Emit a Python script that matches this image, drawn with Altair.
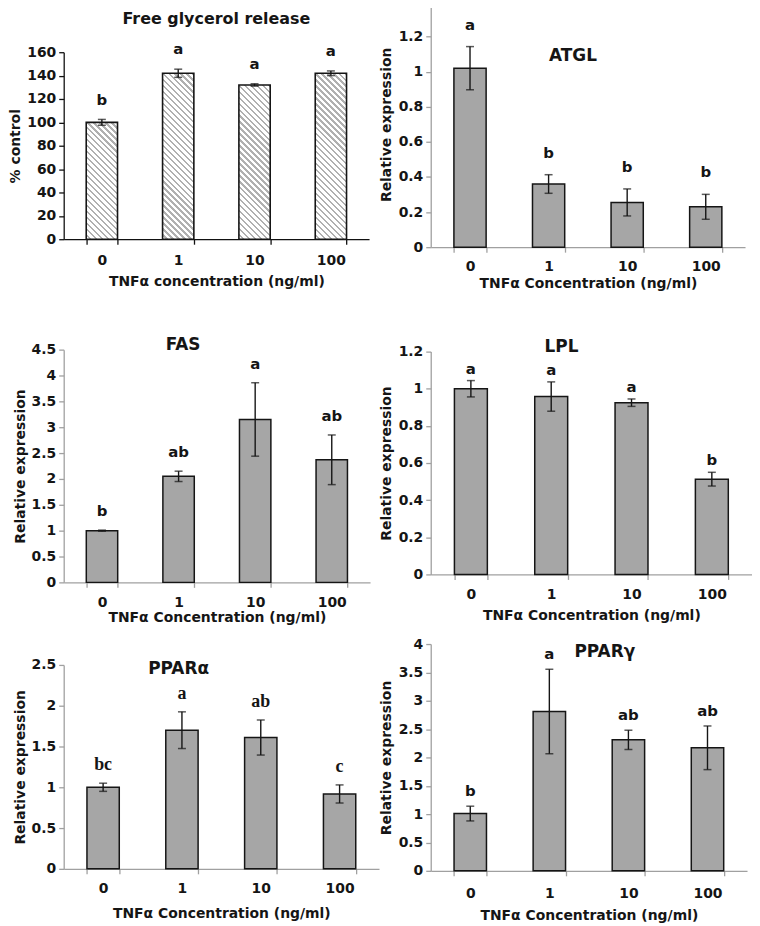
import altair as alt
import pandas as pd

# ---------------- data ----------------
concs = ["0", "1", "10", "100"]

glycerol_mean = [100, 142, 132, 142]
glycerol_err = [2.5, 3.5, 1.0, 2.0]
glycerol_letters = ["b", "a", "a", "a"]
glycerol_ticks = [0, 20, 40, 60, 80, 100, 120, 140, 160]

atgl_mean = [1.02, 0.36, 0.255, 0.23]
atgl_err = [0.123, 0.053, 0.077, 0.071]
atgl_letters = ["a", "b", "b", "b"]
atgl_ticks = [0, 0.2, 0.4, 0.6, 0.8, 1, 1.2, 1.4]

fas_mean = [1.0, 2.05, 3.15, 2.37]
fas_err = [0.01, 0.10, 0.71, 0.48]
fas_letters = ["b", "ab", "a", "ab"]
fas_ticks = [0, 0.5, 1, 1.5, 2, 2.5, 3, 3.5, 4, 4.5]

lpl_mean = [1.0, 0.958, 0.925, 0.513]
lpl_err = [0.044, 0.079, 0.02, 0.037]
lpl_letters = ["a", "a", "a", "b"]
lpl_ticks = [0, 0.2, 0.4, 0.6, 0.8, 1, 1.2]

ppara_mean = [1.0, 1.70, 1.61, 0.918]
ppara_err = [0.05, 0.225, 0.215, 0.111]
ppara_letters = ["bc", "a", "ab", "c"]
ppara_ticks = [0, 0.5, 1, 1.5, 2, 2.5]

pparg_mean = [1.01, 2.81, 2.31, 2.17]
pparg_err = [0.13, 0.745, 0.17, 0.385]
pparg_letters = ["b", "a", "ab", "ab"]
pparg_ticks = [0, 0.5, 1, 1.5, 2, 2.5, 3, 3.5, 4]

# ---------------- style ----------------
FONT = "DejaVu Sans"
SERIF = "Liberation Serif"
BAR_GRAY = "#a6a6a6"
AXIS_GRAY = "#a0a0a0"
INK = "#151515"
P_IN = 0.59
P_OUT = P_IN / 2


def frame(mean, err, letters):
    return pd.DataFrame({
        "conc": concs,
        "mean": mean,
        "lo": [m - e for m, e in zip(mean, err)],
        "hi": [m + e for m, e in zip(mean, err)],
        "letter": letters,
    })


def hatch(w, h, period=6.0, frac=0.4, color="#b0b0b0"):
    """Diagonal stripes as a hard-stop linear gradient in bounding-box units."""
    k = (w + h) / (w * w + h * h)
    x2 = w * k
    y2 = 1 - h * k
    n = (w + h) / period
    stops = [alt.GradientStop(offset=0, color="white")]
    i = 0
    while True:
        a = (i + 1 - frac) / n
        b = (i + 1) / n
        if a >= 1:
            break
        stops.append(alt.GradientStop(offset=a, color="white"))
        stops.append(alt.GradientStop(offset=a, color=color))
        stops.append(alt.GradientStop(offset=min(b, 1), color=color))
        if b >= 1:
            break
        stops.append(alt.GradientStop(offset=b, color="white"))
        i += 1
    return alt.LinearGradient(gradient="linear", stops=stops, x1=0, y1=1, x2=x2, y2=y2)


def panel(df, *, title, width, height, top, ymax, yticks, ytitle, xtitle,
          axis_color=AXIS_GRAY, letter_dy=18, letter_font=FONT, letter_size=15,
          title_dx=0, title_offset=0, title_size=17,
          xlab_pad=8, xtitle_pad=4, ytitle_pad=4, hatched=False):
    xaxis = alt.Axis(
        title=xtitle, labelAngle=0, tickBand="extent", domainColor=axis_color,
        tickColor=axis_color, tickSize=5, domainWidth=1.3, tickWidth=1.3,
        labelFont=FONT, labelFontSize=14, labelFontWeight="bold", labelColor=INK,
        labelPadding=xlab_pad, titleFont=FONT, titleFontSize=14,
        titleFontWeight="bold", titleColor=INK, titlePadding=xtitle_pad,
    )
    yaxis = alt.Axis(
        title=ytitle, values=yticks, format=".2~f", grid=False, domainColor=axis_color,
        tickColor=axis_color, tickSize=5, domainWidth=1.3, tickWidth=1.3,
        labelFont=FONT, labelFontSize=14, labelFontWeight="bold", labelColor=INK,
        labelPadding=3, titleFont=FONT, titleFontSize=14,
        titleFontWeight="bold", titleColor=INK, titlePadding=ytitle_pad,
    )
    xenc = alt.X("conc:N", sort=concs,
                 scale=alt.Scale(paddingInner=P_IN, paddingOuter=P_OUT), axis=xaxis)
    yscale = alt.Scale(domain=[0, ymax], nice=False, range=[height, top])

    def Y(f):
        return alt.Y(f, type="quantitative", scale=yscale, axis=yaxis)

    base = alt.Chart(df).encode(x=xenc)
    layers = []
    if hatched:
        bw = width / 4 * (1 - P_IN)
        for c, m in zip(df["conc"], df["mean"]):
            hpx = m / ymax * (height - top)
            layers.append(
                base.transform_filter(alt.datum.conc == c)
                .mark_bar(fill=hatch(bw, hpx), stroke=INK, strokeWidth=1.6)
                .encode(y=Y("mean"))
            )
    else:
        layers.append(base.mark_bar(fill=BAR_GRAY, stroke=INK, strokeWidth=1.5)
                      .encode(y=Y("mean")))
    layers.append(base.mark_rule(color=INK, strokeWidth=1.4).encode(y=Y("lo"), y2="hi:Q"))
    layers.append(base.mark_tick(color=INK, size=8, thickness=1.5).encode(y=Y("hi")))
    layers.append(base.mark_tick(color=INK, size=8, thickness=1.5).encode(y=Y("lo")))
    layers.append(base.mark_text(font=letter_font, fontWeight="bold", fontSize=letter_size,
                                 baseline="middle", dy=-letter_dy, color=INK)
                  .encode(y=Y("hi"), text="letter:N"))
    return alt.layer(*layers).properties(
        width=width, height=height,
        title=alt.TitleParams(
            text=title, font=FONT, fontSize=title_size, fontWeight="bold", color=INK,
            anchor="middle", frame="group", dx=title_dx, offset=title_offset,
        ),
    )


XT_LOWER = "TNFα concentration (ng/ml)"
XT = "TNFα Concentration (ng/ml)"
YT = "Relative expression"

p1 = panel(frame(glycerol_mean, glycerol_err, glycerol_letters), title="Free glycerol release",
           width=307, height=239, top=51, ymax=160, yticks=glycerol_ticks, ytitle="% control",
           xtitle=XT_LOWER, axis_color="#111111", letter_dy=20, title_size=16,
           title_offset=-26, xlab_pad=9.5, xtitle_pad=7, ytitle_pad=4, hatched=True)
p3 = panel(frame(fas_mean, fas_err, fas_letters), title="FAS",
           width=308, height=295, top=61, ymax=4.5, yticks=fas_ticks, ytitle=YT, xtitle=XT,
           letter_dy=19, title_dx=-34, title_offset=-65, xlab_pad=8, xtitle_pad=1)
p5 = panel(frame(ppara_mean, ppara_err, ppara_letters), title="PPARα",
           width=317, height=246, top=41, ymax=2.5, yticks=ppara_ticks, ytitle=YT, xtitle=XT,
           letter_dy=18, letter_font=SERIF, letter_size=18, title_dx=-43, title_offset=-54,
           xlab_pad=8, xtitle_pad=11)

p2 = panel(frame(atgl_mean, atgl_err, atgl_letters), title="ATGL",
           width=316, height=247, top=0, ymax=1.4, yticks=atgl_ticks, ytitle=YT, xtitle=XT,
           letter_dy=22, title_dx=-15, title_offset=-71, xlab_pad=7.5, xtitle_pad=3,
           ytitle_pad=5)
p4 = panel(frame(lpl_mean, lpl_err, lpl_letters), title="LPL",
           width=323, height=285, top=61, ymax=1.2, yticks=lpl_ticks, ytitle=YT, xtitle=XT,
           letter_dy=12, title_dx=-30, title_offset=-65, xlab_pad=8.5, xtitle_pad=7,
           ytitle_pad=5)
p6 = panel(frame(pparg_mean, pparg_err, pparg_letters), title="PPARγ",
           width=318, height=249, top=21, ymax=4, yticks=pparg_ticks, ytitle=YT, xtitle=XT,
           letter_dy=15, title_dx=16, title_offset=-38, xlab_pad=10.5, xtitle_pad=8,
           ytitle_pad=5)

left = alt.vconcat(p1, p3, p5, spacing=0)
right = alt.vconcat(p2, p4, p6, spacing=0)

chart = (
    alt.hconcat(left, right, spacing=0)
    .properties(padding={"left": 0, "top": -16, "right": 0, "bottom": 0},
                background="white")
    .configure_view(stroke="transparent", strokeWidth=0)
)

chart.save("out.html", embed_options={"renderer": "svg", "actions": False})
